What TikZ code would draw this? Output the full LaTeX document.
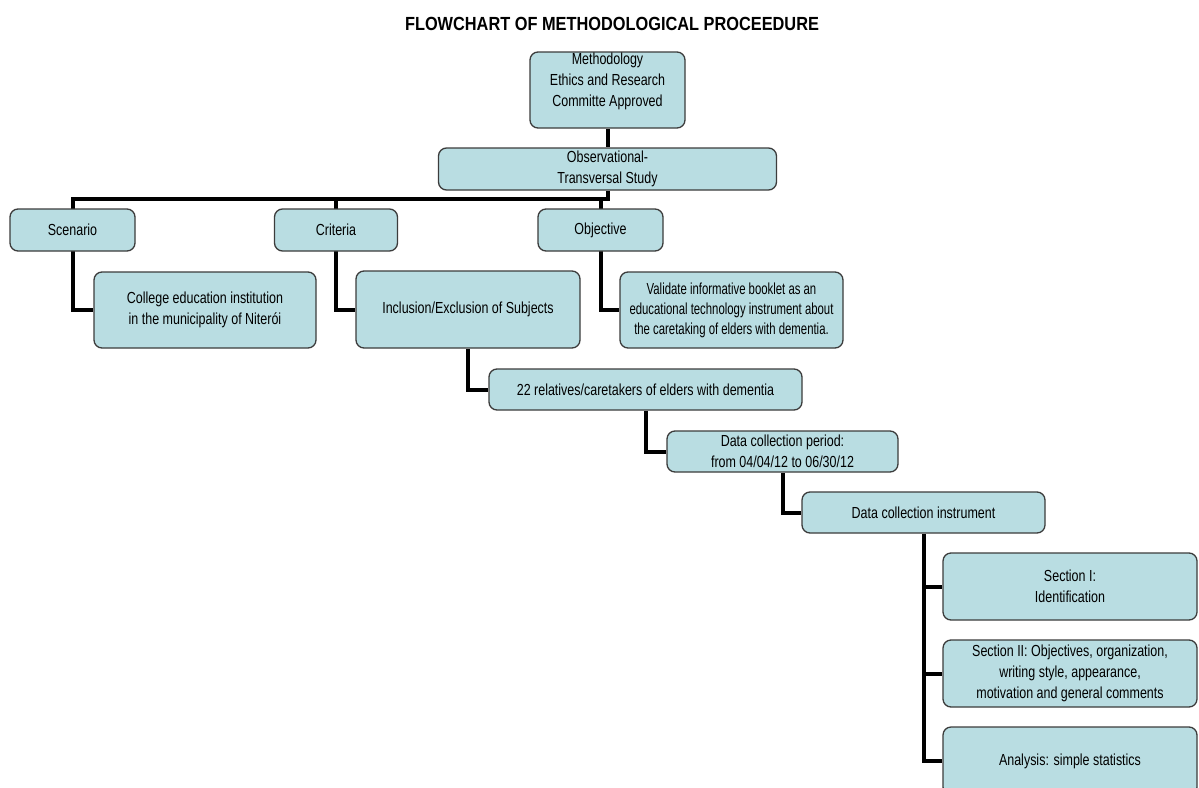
\documentclass[tikz,border=0pt]{standalone}
\usepackage{fontspec}
\setmainfont[FakeStretch=0.78]{Liberation Sans}
\newfontfamily\titlefont[FakeStretch=0.86]{Liberation Sans}
\newfontfamily\narrowfont[FakeStretch=0.71]{Liberation Sans}
\usetikzlibrary{backgrounds}
\definecolor{boxfill}{RGB}{185,221,226}
\definecolor{boxline}{RGB}{60,60,60}
\tikzset{
  fbox/.style={draw=boxline, fill=boxfill, line width=1.3pt, rounded corners=8pt,
    inner sep=0pt, align=center, font=\fontsize{16}{21}\selectfont},
  conn/.style={line width=4pt, black},
  lbl/.style={align=center, inner sep=0pt, font=\fontsize{16}{21}\selectfont}
}
\begin{document}
\begin{tikzpicture}[x=1pt, y=-1pt]
\useasboundingbox (0,0) rectangle (1199,787);

\node[font={\titlefont\fontsize{19}{22}\selectfont\bfseries}, inner sep=0pt] (title) at (612,23.5) {FLOWCHART OF METHODOLOGICAL PROCEEDURE};

\node[fbox, minimum width=155pt, minimum height=76pt] (meth) at (607.5,90) {};
\node[lbl] (methtext) at (607.5,81) {Methodology\\Ethics and Research\\Committe Approved};
\node[fbox, minimum width=338pt, minimum height=42pt] (obs) at (607.5,169) {Observational-\\Transversal Study};

\node[fbox, minimum width=125pt, minimum height=42pt] (scen) at (72.5,230) {Scenario};
\node[fbox, minimum width=123pt, minimum height=42pt] (crit) at (336,230) {Criteria};
\node[fbox, minimum width=125pt, minimum height=42pt] (obj) at (600.5,230) {Objective};

\node[fbox, minimum width=222pt, minimum height=76pt] (coll) at (205,310) {College education institution\\in the municipality of Niterói};
\node[fbox, minimum width=224pt, minimum height=77pt] (incl) at (468,309.5) {Inclusion/Exclusion of Subjects};
\node[fbox, minimum width=223pt, minimum height=76pt, font={\narrowfont\fontsize{16}{20}\selectfont}] (val) at (731.5,310) {Validate informative booklet as an\\educational technology instrument about\\the caretaking of elders with dementia.};

\node[fbox, minimum width=313pt, minimum height=41pt] (rel) at (645.5,389.5) {22 relatives/caretakers of elders with dementia};
\node[fbox, minimum width=231pt, minimum height=41pt] (per) at (782.5,451.5) {Data collection period:\\from 04/04/12 to 06/30/12};
\node[fbox, minimum width=243pt, minimum height=41pt] (dci) at (923.5,512.5) {Data collection instrument};

\node[fbox, minimum width=254pt, minimum height=67pt] (s1) at (1070,586.5) {Section I:\\Identification};
\node[fbox, minimum width=254pt, minimum height=67pt] (s2) at (1070,673.5) {Section II: Objectives, organization,\\writing style, appearance,\\motivation and general comments};
\node[fbox, minimum width=254pt, minimum height=68pt] (an) at (1070,761) {Analysis: simple statistics};

\coordinate (bus) at (0,199);
\begin{pgfonlayer}{background}
\fill[white] (0,0) rectangle (1199,787);
\draw[conn] (meth.south) -- (obs.north);
\draw[conn] (obs.south) |- (bus -| scen.north) -- (scen.south) |- (coll.west);
\draw[conn] (bus -| crit.north) -- (crit.south) |- (incl.west);
\draw[conn] (bus -| obj.north) -- (obj.south) |- (val.west);
\draw[conn] (incl.south) |- (rel.west);
\draw[conn] (rel.south) |- (per.west);
\draw[conn] (per.south) |- (dci.west);
\draw[conn] (dci.south) |- (an.west);
\draw[conn] (dci.south |- s1.west) -- (s1.west);
\draw[conn] (dci.south |- s2.west) -- (s2.west);
\end{pgfonlayer}
\end{tikzpicture}
\end{document}
